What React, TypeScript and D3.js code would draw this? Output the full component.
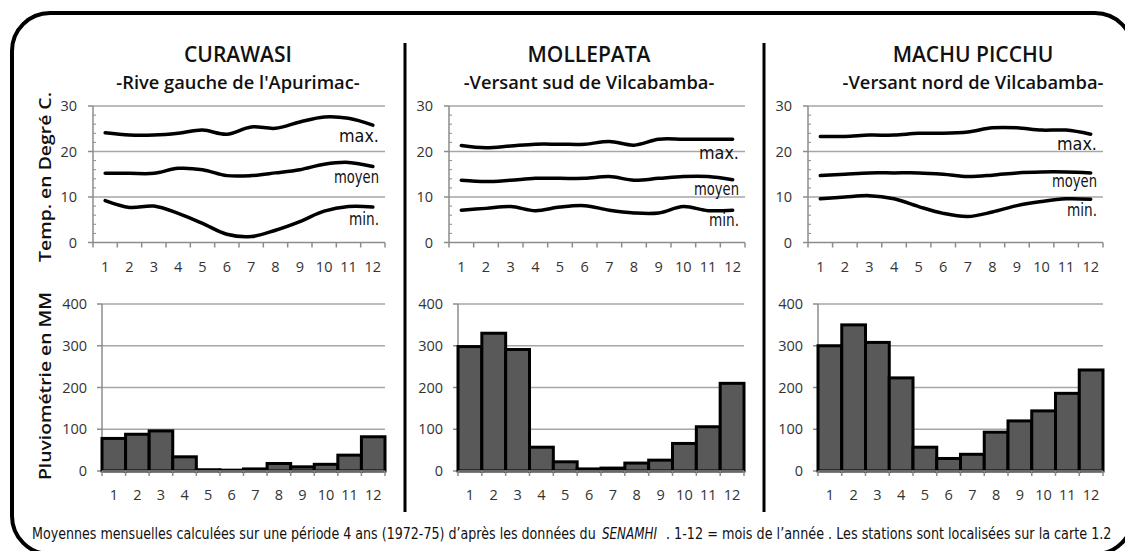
import React, { useLayoutEffect, useRef, useState } from "react";
import * as d3 from "d3";

// ---------- DATA ----------
const months = [1, 2, 3, 4, 5, 6, 7, 8, 9, 10, 11, 12];
const tempTicks = [0, 10, 20, 30];
const rainTicks = [0, 100, 200, 300, 400];

const curawasiMax = [24.1, 23.6, 23.6, 24.0, 24.7, 23.8, 25.4, 25.1, 26.5, 27.6, 27.3, 25.8];
const curawasiMoyen = [15.2, 15.2, 15.2, 16.3, 16.0, 14.7, 14.7, 15.3, 16.0, 17.2, 17.6, 16.7];
const curawasiMin = [9.2, 7.7, 8.0, 6.4, 4.2, 1.8, 1.3, 2.7, 4.6, 6.9, 7.9, 7.8];
const curawasiRain = [78, 88, 96, 34, 3, 2, 5, 18, 10, 16, 38, 82];

const mollepataMax = [21.3, 20.8, 21.2, 21.6, 21.6, 21.6, 22.2, 21.4, 22.7, 22.7, 22.7, 22.7];
const mollepataMoyen = [13.7, 13.4, 13.7, 14.1, 14.1, 14.1, 14.5, 13.7, 14.1, 14.5, 14.5, 13.8];
const mollepataMin = [7.1, 7.5, 7.9, 7.0, 7.8, 8.1, 7.1, 6.5, 6.5, 7.9, 7.0, 7.1];
const mollepataRain = [298, 330, 291, 57, 22, 5, 7, 19, 26, 66, 106, 210];

const machuMax = [23.3, 23.3, 23.6, 23.6, 24.0, 24.0, 24.3, 25.2, 25.2, 24.7, 24.7, 23.8];
const machuMoyen = [14.7, 15.0, 15.3, 15.3, 15.3, 15.0, 14.5, 14.8, 15.3, 15.5, 15.5, 15.3];
const machuMin = [9.6, 10.0, 10.3, 9.6, 7.9, 6.4, 5.7, 6.7, 8.1, 9.0, 9.6, 9.5];
const machuRain = [300, 350, 308, 223, 57, 30, 40, 93, 120, 144, 186, 242];

const seriesNames = ["max.", "moyen", "min."];

const footerParts = [
  "Moyennes mensuelles calculées sur une période 4 ans (1972-75) d’après les données du",
  "SENAMHI",
  ".  1-12 = mois de l’année . Les stations sont localisées sur la carte 1.2",
];

// ---------- LAYOUT ----------
const W = 1125;
const H = 551;
const TOP_Y0 = 242.5;
const TOP_Y1 = 106;
const BOT_Y0 = 471;
const BOT_Y1 = 304;

const panels = [
  {
    title: "CURAWASI",
    subtitle: "-Rive gauche de l'Apurimac-",
    titleX: 238,
    top: [93, 385],
    bottom: [102, 385],
    series: [curawasiMax, curawasiMoyen, curawasiMin],
    labelAt: [22.1, 13.1, 3.8],
    rain: curawasiRain,
  },
  {
    title: "MOLLEPATA",
    subtitle: "-Versant sud de Vilcabamba-",
    titleX: 589,
    top: [449, 745],
    bottom: [458, 744],
    series: [mollepataMax, mollepataMoyen, mollepataMin],
    labelAt: [18.4, 10.4, 3.6],
    rain: mollepataRain,
  },
  {
    title: "MACHU PICCHU",
    subtitle: "-Versant nord de Vilcabamba-",
    titleX: 973,
    top: [808, 1103],
    bottom: [818, 1103],
    series: [machuMax, machuMoyen, machuMin],
    labelAt: [20.3, 12.2, 5.8],
    rain: machuRain,
  },
];

const labelWidths = [40, 45, 30];
const footerSlots = [
  { x: 32, w: 564, italic: false },
  { x: 602, w: 55, italic: true },
  { x: 666, w: 446, italic: false },
];

const GRID = "#a6a6a6";
const AXIS = "#8c8c8c";
const TICKTXT = "#333";
const SANS = "'Open Sans', 'Noto Sans', sans-serif";
const NARROW = "'Liberation Sans Narrow', 'DejaVu Sans Condensed', 'Open Sans', sans-serif";

// Text that is scaled horizontally to a given width (so its real box matches)
function FitText({
  x,
  y,
  width,
  children,
  ...rest
}: { x: number; y: number; width: number; children: React.ReactNode; [k: string]: any }) {
  const ref = useRef<SVGTextElement>(null);
  const [sx, setSx] = useState(1);
  useLayoutEffect(() => {
    if (ref.current) {
      const w = ref.current.getComputedTextLength();
      if (w > 0) setSx(width / w);
    }
  }, [width, children]);
  return (
    <g transform={`translate(${x},${y}) scale(${sx},1)`}>
      <text ref={ref} x={0} y={0} {...rest}>
        {children}
      </text>
    </g>
  );
}

function Panel({ p }: { p: (typeof panels)[number] }) {
  const xT = d3.scaleBand<number>().domain(months).range(p.top as [number, number]).padding(0);
  const yT = d3.scaleLinear().domain([0, 30]).range([TOP_Y0, TOP_Y1]);
  const xB = d3.scaleBand<number>().domain(months).range(p.bottom as [number, number]).padding(0);
  const yB = d3.scaleLinear().domain([0, 400]).range([BOT_Y0, BOT_Y1]);

  const line = d3
    .line<number>()
    .x((_, i) => (xT(months[i]) as number) + xT.bandwidth() / 2)
    .y((d) => yT(d))
    .curve(d3.curveCatmullRom.alpha(0.5));

  const minor = d3.range(0, 31, 2).filter((v) => v % 10 !== 0);
  const [tx0, tx1] = p.top;
  const [bx0, bx1] = p.bottom;
  const tBounds = months.map((m) => xT(m) as number).concat([tx1]);
  const bBounds = months.map((m) => xB(m) as number).concat([bx1]);

  return (
    <g>
      <text x={p.titleX} y={62} textAnchor="middle" fontFamily={SANS} fontWeight={600} fontSize={21} fill="#111">
        {p.title}
      </text>
      <text x={p.titleX} y={89} textAnchor="middle" fontFamily={SANS} fontWeight={600} fontSize={18.3} fill="#111">
        {p.subtitle}
      </text>

      {/* temperature chart */}
      {tempTicks.filter((t) => t > 0).map((t) => (
        <line key={"tg" + t} x1={tx0} x2={tx1} y1={yT(t)} y2={yT(t)} stroke={GRID} strokeWidth={1.5} />
      ))}
      <line x1={tx0} x2={tx0} y1={yT(0)} y2={yT(30)} stroke={AXIS} strokeWidth={1.5} />
      <line x1={tx0} x2={tx1} y1={yT(0)} y2={yT(0)} stroke={AXIS} strokeWidth={1.5} />
      {tempTicks.map((t) => (
        <line key={"tt" + t} x1={tx0 - 5} x2={tx0} y1={yT(t)} y2={yT(t)} stroke={AXIS} strokeWidth={1.5} />
      ))}
      {minor.map((t) => (
        <line key={"tm" + t} x1={tx0} x2={tx0 + 3} y1={yT(t)} y2={yT(t)} stroke={AXIS} strokeWidth={1} />
      ))}
      {tBounds.map((x, i) => (
        <line key={"tb" + i} x1={x} x2={x} y1={yT(0)} y2={yT(0) + 5} stroke={AXIS} strokeWidth={1.5} />
      ))}
      {tempTicks.map((t) => (
        <text key={"tl" + t} x={tx0 - 16} y={yT(t) + 5} textAnchor="end" fontFamily={SANS} fontSize={14.5} fill={TICKTXT}>
          {t}
        </text>
      ))}
      {months.map((m) => (
        <text key={"tx" + m} x={(xT(m) as number) + xT.bandwidth() / 2} y={272} textAnchor="middle" fontFamily={SANS} fontSize={14.5} fill={TICKTXT}>
          {m}
        </text>
      ))}
      {p.series.map((s, i) => (
        <path key={"ln" + i} d={line(s) as string} fill="none" stroke="#000" strokeWidth={3.5} strokeLinejoin="round" strokeLinecap="round" />
      ))}
      {seriesNames.map((n, i) => (
        <FitText
          key={"lab" + i}
          x={tx1 - 6 - labelWidths[i]}
          y={yT(p.labelAt[i])}
          width={labelWidths[i]}
          fontFamily={NARROW}
          fontSize={17}
          fill="#111"
        >
          {n}
        </FitText>
      ))}

      {/* rainfall chart */}
      {rainTicks.filter((t) => t > 0).map((t) => (
        <line key={"bg" + t} x1={bx0} x2={bx1} y1={yB(t)} y2={yB(t)} stroke={GRID} strokeWidth={1.5} />
      ))}
      <line x1={bx0} x2={bx0} y1={yB(0)} y2={yB(400)} stroke={AXIS} strokeWidth={1.5} />
      {rainTicks.map((t) => (
        <line key={"bt" + t} x1={bx0 - 5} x2={bx0} y1={yB(t)} y2={yB(t)} stroke={AXIS} strokeWidth={1.5} />
      ))}
      {p.rain.map((v, i) => (
        <rect
          key={"bar" + i}
          x={xB(months[i]) as number}
          width={xB.bandwidth()}
          y={yB(v)}
          height={yB(0) - yB(v)}
          fill="#595959"
          stroke="#000"
          strokeWidth={3}
        />
      ))}
      <line x1={bx0} x2={bx1} y1={yB(0)} y2={yB(0)} stroke={AXIS} strokeWidth={1.5} />
      {bBounds.map((x, i) => (
        <line key={"bb" + i} x1={x} x2={x} y1={yB(0)} y2={yB(0) + 5} stroke={AXIS} strokeWidth={1.5} />
      ))}
      {rainTicks.map((t) => (
        <text key={"bl" + t} x={bx0 - 15} y={yB(t) + 5} textAnchor="end" fontFamily={SANS} fontSize={14.5} fill={TICKTXT}>
          {t}
        </text>
      ))}
      {months.map((m) => (
        <text key={"bx" + m} x={(xB(m) as number) + xB.bandwidth() / 2} y={500} textAnchor="middle" fontFamily={SANS} fontSize={14.5} fill={TICKTXT}>
          {m}
        </text>
      ))}
    </g>
  );
}

export default function App() {
  return (
    <div style={{ position: "absolute", left: 0, top: 0 }}>
      <svg width={W} height={H} viewBox={`0 0 ${W} ${H}`} style={{ display: "block", background: "#fff" }}>
        <rect x={0} y={0} width={W} height={H} fill="#fff" />
        <rect x={12} y={13} width={1121} height={541} rx={38} ry={38} fill="none" stroke="#000" strokeWidth={4} />
        <line x1={405} x2={405} y1={43} y2={512} stroke="#000" strokeWidth={3} />
        <line x1={764} x2={764} y1={43} y2={512} stroke="#000" strokeWidth={3} />

        <text
          transform="translate(51,177) rotate(-90)"
          textAnchor="middle"
          fontFamily={SANS}
          fontWeight={600}
          fontSize={17}
          fill="#111"
          textLength={170}
          lengthAdjust="spacingAndGlyphs"
        >
          Temp. en Degré C.
        </text>
        <text
          transform="translate(51,386) rotate(-90)"
          textAnchor="middle"
          fontFamily={SANS}
          fontWeight={600}
          fontSize={17}
          fill="#111"
          textLength={188}
          lengthAdjust="spacingAndGlyphs"
        >
          Pluviométrie en MM
        </text>

        {panels.map((p) => (
          <Panel key={p.title} p={p} />
        ))}

        {footerParts.map((t, i) => (
          <FitText
            key={"f" + i}
            x={footerSlots[i].x}
            y={539}
            width={footerSlots[i].w}
            fontFamily={NARROW}
            fontStyle={footerSlots[i].italic ? "italic" : "normal"}
            fontSize={16}
            fill="#111"
          >
            {t}
          </FitText>
        ))}
      </svg>
    </div>
  );
}
